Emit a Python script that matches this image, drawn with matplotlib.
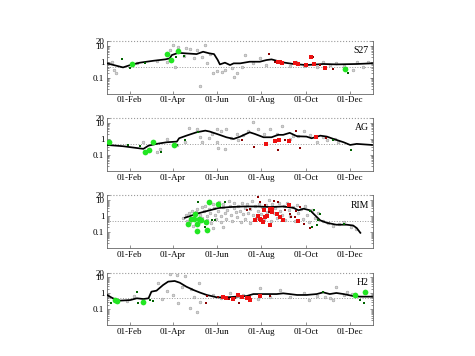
import numpy as np
import matplotlib
matplotlib.use('Agg')
import matplotlib.pyplot as plt
from matplotlib.ticker import FixedLocator, FixedFormatter, LogLocator, NullFormatter

plt.rcParams['font.family'] = ['Liberation Serif', 'DejaVu Serif']

# day-of-year positions of the month ticks
tick_days = [31, 90, 151, 212, 273, 334]
tick_labels = ['01-Feb', '01-Apr', '01-Jun', '01-Aug', '01-Oct', '01-Dec']
y_ticks = [0.1, 1, 10, 20]
y_labels = ['0.1', '1', '10', '20']

# --- S27 ---
s27_line = [(0, 0.79), (22, 0.44), (32, 0.62), (45, 0.87), (64, 1.15), (80, 1.4), (86, 1.6),
            (89, 2.6), (98, 3.6), (109, 3.3), (123, 3.0), (132, 4.2), (141, 3.3), (147, 3.0),
            (152, 1.3), (155, 0.68), (162, 0.87), (169, 0.62), (174, 0.79), (183, 0.79),
            (196, 1.0), (210, 1.0), (219, 1.27), (226, 1.4), (233, 1.15), (242, 0.9),
            (256, 0.72), (274, 0.62), (297, 0.72), (315, 0.68), (343, 0.72), (364, 0.79)]
s27_grey = [(7, 1.0), (9, 0.3), (13, 0.19), (41, 0.8), (82, 0.95), (86, 5.4), (91, 11), (93, 0.5),
            (97, 8.6), (106, 2.3), (109, 6.8), (114, 5.9), (119, 1.6), (123, 5.4), (128, 0.03),
            (130, 2.0), (135, 11), (137, 0.8), (141, 3.0), (146, 0.19), (151, 0.27), (158, 0.24),
            (162, 0.3), (171, 0.38), (174, 0.115), (178, 0.2), (185, 0.49), (190, 2.6), (201, 0.8),
            (210, 1.6), (219, 0.6), (236, 1.0), (251, 0.54), (259, 0.9), (270, 0.54), (288, 0.5),
            (297, 0.95), (306, 0.62), (315, 0.8), (325, 0.54), (338, 0.3), (343, 0.95),
            (352, 0.5), (358, 0.95), (68, 1.1)]
s27_green = [(34, 0.68), (83, 3.0), (88, 1.27), (98, 4.6), (327, 0.33)]
s27_dkgreen = [(21, 1.47), (32, 0.42), (52, 0.79), (95, 2.05), (106, 2.3), (331, 0.2), (329, 0.35)]
s27_red = [(235, 1.0), (241, 0.87), (258, 0.79), (263, 0.68), (273, 0.62), (280, 2.05),
           (299, 0.42), (238, 0.9), (285, 0.7)]
s27_dkred = [(222, 2.9), (231, 0.9), (283, 2.0), (293, 0.6), (311, 0.33)]

# --- AG ---
ag_line = [(0, 0.42), (22, 0.35), (41, 0.27), (50, 0.24), (57, 0.38), (68, 0.49), (82, 0.62),
           (96, 0.68), (99, 1.1), (109, 1.6), (123, 2.6), (135, 3.3), (141, 2.9), (151, 2.05),
           (164, 1.27), (174, 1.0), (183, 1.4), (196, 2.6), (203, 2.05), (215, 1.27),
           (226, 1.27), (235, 1.8), (242, 1.8), (251, 2.4), (261, 1.47), (274, 1.4),
           (281, 1.1), (293, 1.6), (302, 1.4), (311, 1.0), (325, 0.62), (334, 0.42),
           (343, 0.49), (364, 0.42)]
ag_grey = [(112, 4.6), (123, 4.2), (82, 1.0), (107, 0.68), (151, 4.2), (144, 2.0), (153, 0.26),
           (162, 0.24), (151, 0.68), (157, 3.3), (164, 4.2), (178, 2.0), (194, 3.3), (201, 12),
           (208, 4.0), (215, 2.0), (224, 4.2), (233, 2.0), (240, 6.8), (251, 1.0), (256, 1.6),
           (263, 1.6), (270, 3.3), (279, 1.8), (288, 0.68), (297, 1.3), (302, 0.9), (313, 1.0),
           (317, 0.68), (68, 0.15), (73, 0.24), (50, 0.68), (131, 0.6), (128, 1.27), (180, 0.9),
           (187, 1.8), (96, 0.4), (170, 1.2), (140, 1.1)]
ag_green = [(3, 0.62), (52, 0.15), (57, 0.2), (63, 0.68), (92, 0.44)]
ag_dkgreen = [(29, 0.4), (45, 0.38), (74, 0.15), (107, 0.87), (125, 2.6), (310, 0.9),
              (335, 0.2), (96, 0.44)]
ag_red = [(219, 0.49), (231, 0.79), (236, 0.9), (250, 0.79), (287, 1.4)]
ag_dkred = [(185, 0.9), (202, 0.3), (235, 0.2), (245, 0.9), (260, 3.3), (265, 0.27), (301, 1.2)]

# --- RIM ---
rim_line = [(107, 0.79), (114, 1.0), (123, 1.4), (132, 1.8), (141, 2.3), (153, 3.2), (169, 3.7),
            (187, 4.0), (206, 4.0), (224, 3.7), (242, 4.0), (256, 3.3), (263, 2.3), (270, 2.9),
            (279, 2.3), (286, 1.1), (293, 0.54), (302, 0.38), (315, 0.29), (329, 0.29),
            (338, 0.26), (343, 0.18), (348, 0.09)]
rim_grey = [(105, 0.8), (108, 1.1), (110, 0.5), (112, 1.5), (114, 0.4), (117, 2.0), (119, 0.9),
            (122, 1.7), (124, 2.6), (127, 0.45), (128, 1.2), (130, 3.5), (131, 0.8), (133, 2.2),
            (135, 4.5), (137, 1.0), (138, 0.6), (140, 2.8), (142, 1.5), (143, 0.35), (145, 6.0),
            (147, 3.0), (149, 1.2), (150, 0.7), (152, 2.0), (154, 8.0), (156, 1.0), (157, 0.45),
            (159, 3.5), (160, 5.5), (162, 1.6), (164, 0.7), (165, 2.5), (167, 9.0), (169, 4.0),
            (170, 1.2), (172, 0.5), (174, 3.0), (175, 6.5), (177, 1.8), (179, 0.9), (180, 4.5),
            (182, 2.2), (184, 0.4), (185, 7.0), (187, 1.3), (189, 3.2), (190, 0.7), (192, 5.5),
            (194, 1.6), (196, 0.35), (197, 2.6), (199, 8.5), (201, 1.1), (203, 4.0), (205, 0.8),
            (207, 2.0), (209, 6.0), (211, 1.3), (213, 3.5), (215, 0.6), (218, 4.8), (220, 1.8),
            (222, 9.5), (225, 0.5), (227, 5.5), (229, 1.5), (231, 3.0), (233, 0.8), (236, 6.5),
            (238, 2.0), (240, 1.2), (243, 4.0), (245, 0.6), (247, 7.0), (250, 2.5), (252, 1.0),
            (255, 3.8), (258, 0.5), (261, 5.0), (263, 1.5), (266, 2.6), (269, 0.7), (272, 4.2),
            (275, 1.2), (278, 0.45), (282, 2.5), (286, 0.8), (290, 1.6), (296, 0.5), (303, 0.35),
            (310, 0.25), (318, 0.3), (326, 0.4), (335, 0.2), (342, 0.15), (118, 0.25),
            (146, 0.18), (160, 0.22)]
rim_green = [(111, 0.3), (121, 1.3), (120, 0.62), (123, 0.33), (126, 0.68), (129, 0.54),
             (116, 0.62), (124, 0.11), (138, 0.14), (140, 7.5), (153, 5.9), (136, 0.42)]
rim_dkgreen = [(125, 7.5), (132, 0.54), (135, 0.2), (139, 0.16), (144, 0.54), (148, 0.54),
               (155, 4.2), (162, 7.5), (279, 2.0), (285, 2.3), (290, 0.55), (288, 0.26),
               (325, 0.33), (281, 0.2), (293, 1.3)]
rim_red = [(203, 0.54), (210, 0.68), (212, 0.54), (215, 2.3), (224, 2.9), (226, 1.8), (233, 1.4),
           (214, 0.45), (217, 0.9), (224, 0.29), (226, 2.9), (238, 0.9), (242, 0.6), (250, 5.1),
           (263, 0.49), (208, 1.0), (220, 1.0)]
rim_dkred = [(192, 2.3), (197, 2.9), (208, 15), (210, 7.5), (217, 5.1), (222, 1.7), (229, 9),
             (235, 7.5), (245, 2.3), (251, 1.4), (253, 0.9), (258, 0.85), (260, 2.0), (265, 3.5),
             (279, 0.18), (270, 0.3)]

# --- H2 ---
h2_line = [(0, 0.79), (8, 0.49), (18, 0.35), (32, 0.38), (41, 0.49), (50, 0.44), (57, 0.49),
           (61, 1.27), (68, 1.47), (77, 3.3), (84, 5.4), (93, 5.9), (100, 4.6), (109, 2.6),
           (119, 1.6), (128, 1.1), (137, 0.79), (151, 0.56), (164, 0.56), (178, 0.62),
           (192, 0.68), (201, 0.9), (215, 0.9), (233, 0.9), (242, 1.0), (251, 0.9), (261, 0.79),
           (274, 0.79), (288, 0.9), (297, 1.15), (306, 0.9), (315, 1.05), (325, 0.9),
           (338, 0.68), (347, 0.62), (364, 0.62)]
h2_grey = [(70, 4.6), (75, 0.44), (82, 1.5), (86, 16), (96, 14), (107, 12), (103, 2.6), (98, 0.24),
           (114, 0.115), (123, 0.07), (126, 4.2), (119, 0.6), (128, 0.3), (50, 0.35), (27, 0.33),
           (37, 0.7), (146, 0.8), (157, 0.5), (169, 1.0), (187, 0.8), (210, 2.05), (208, 0.45),
           (224, 0.6), (238, 1.6), (251, 0.6), (270, 1.0), (278, 0.4), (288, 0.7), (299, 0.6),
           (306, 0.5), (311, 0.38), (315, 2.6), (325, 0.8), (329, 1.3), (336, 0.9), (90, 0.8),
           (115, 1.8)]
h2_green = [(11, 0.38), (14, 0.35), (50, 0.3), (341, 0.79), (354, 1.27)]
h2_dkgreen = [(5, 0.26), (41, 1.27), (42, 0.26), (59, 0.38), (63, 0.33), (297, 1.15),
              (348, 0.38), (353, 0.26)]
h2_red = [(160, 0.62), (164, 0.49), (173, 0.42), (180, 0.79), (185, 0.62), (192, 0.49),
          (196, 0.38), (210, 0.68), (195, 0.5)]
h2_dkred = [(137, 0.68), (136, 0.26), (153, 0.55), (167, 0.45), (176, 0.5), (181, 0.26), (224, 0.68)]

panels = [
    ('S27', s27_line, s27_grey, s27_green, s27_dkgreen, s27_red, s27_dkred),
    ('AG', ag_line, ag_grey, ag_green, ag_dkgreen, ag_red, ag_dkred),
    ('RIM', rim_line, rim_grey, rim_green, rim_dkgreen, rim_red, rim_dkred),
    ('H2', h2_line, h2_grey, h2_green, h2_dkgreen, h2_red, h2_dkred),
]

fig = plt.figure(figsize=(4.75, 3.56), dpi=100)
bottoms = [0.7368, 0.5199, 0.3031, 0.0862]

for (name, line, grey, green, dkgreen, red, dkred), b in zip(panels, bottoms):
    ax = fig.add_axes([0.2253, b, 0.5594, 0.1483])
    ax.set_yscale('log')
    ax.set_xlim(0, 365)
    ax.set_ylim(0.01, 20)

    ax.axhline(0.5, color='#999999', ls=':', lw=0.7, zorder=1)
    ax.axhline(20, color='#999999', ls=':', lw=0.8, zorder=1, clip_on=False)

    g = np.array(grey)
    ax.scatter(g[:, 0], g[:, 1], s=4, c='#d4d4d4', edgecolors='#959595', linewidths=0.35, zorder=2)
    ln = np.array(line)
    ax.plot(ln[:, 0], ln[:, 1], color='black', lw=1.25, zorder=3)
    p = np.array(dkgreen)
    ax.scatter(p[:, 0], p[:, 1], s=3.5, marker='s', c='#006400', linewidths=0, zorder=4)
    p = np.array(green)
    ax.scatter(p[:, 0], p[:, 1], s=17, c='#22e622', linewidths=0, zorder=5)
    p = np.array(dkred)
    ax.scatter(p[:, 0], p[:, 1], s=3.5, marker='s', c='#8b0000', linewidths=0, zorder=4)
    p = np.array(red)
    ax.scatter(p[:, 0], p[:, 1], s=11, marker='s', c='#ee1111', linewidths=0, zorder=5)

    ax.spines['top'].set_visible(False)
    for sp in ['left', 'right', 'bottom']:
        ax.spines[sp].set_color('#666666')
        ax.spines[sp].set_linewidth(0.6)

    ax.xaxis.set_major_locator(FixedLocator(tick_days))
    ax.xaxis.set_major_formatter(FixedFormatter(tick_labels))
    ax.yaxis.set_major_locator(FixedLocator(y_ticks))
    ax.yaxis.set_major_formatter(FixedFormatter(y_labels))
    ax.yaxis.set_minor_locator(LogLocator(base=10, subs=np.arange(2, 10)))
    ax.yaxis.set_minor_formatter(NullFormatter())
    ax.tick_params(axis='both', which='both', direction='in', labelsize=6.5, colors='#666666',
                   labelcolor='black', width=0.5, pad=2)
    ax.tick_params(axis='y', which='both', right=True)
    ax.tick_params(axis='x', length=2.5)
    ax.tick_params(axis='y', which='major', length=2.5)
    ax.tick_params(axis='y', which='minor', length=1.5)

    ax.text(0.985, 0.9, name, transform=ax.transAxes, ha='right', va='top', fontsize=7)

fig.savefig('out.png', dpi=100)
